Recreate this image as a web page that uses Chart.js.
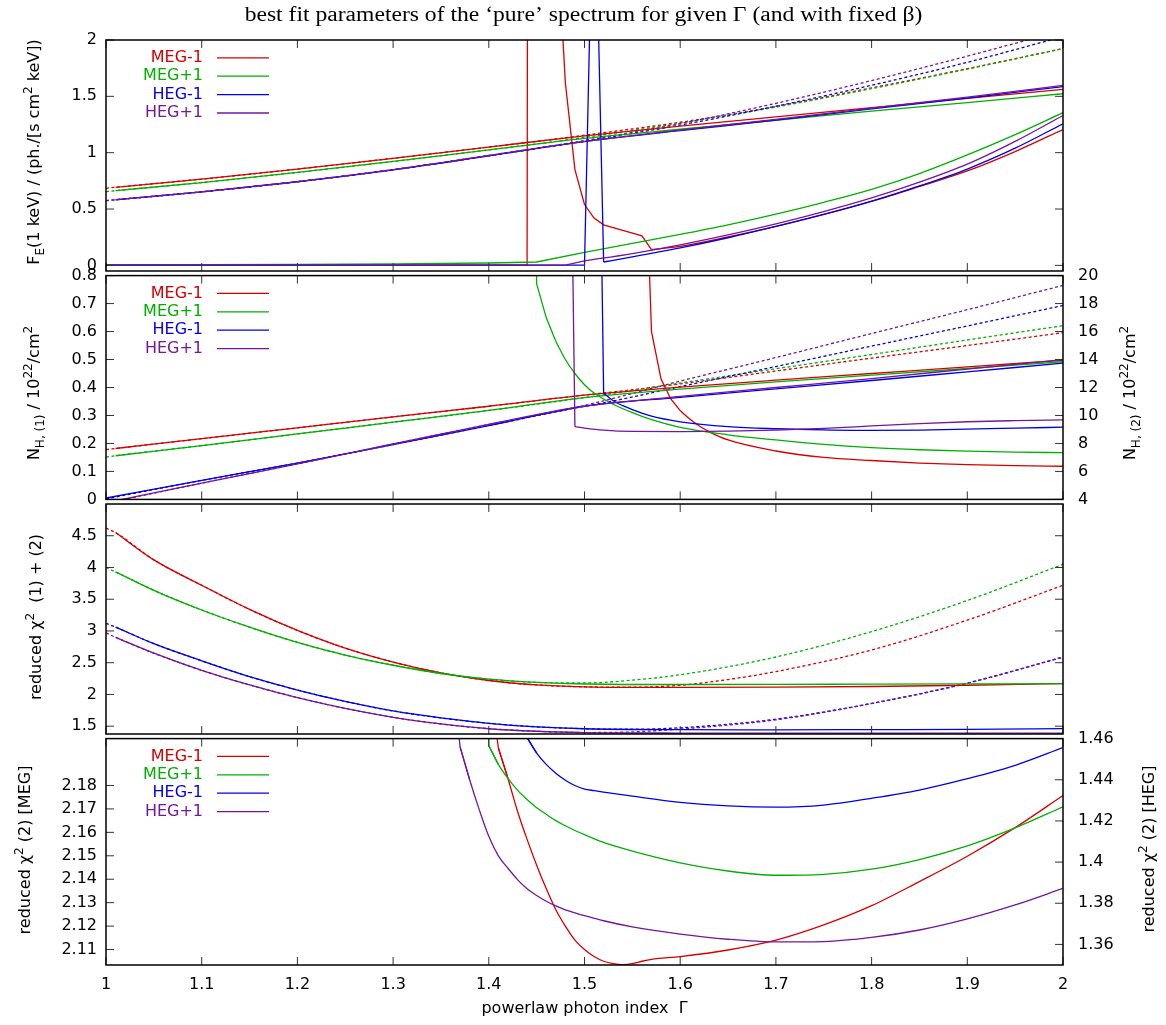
<!DOCTYPE html>
<html>
<head>
<meta charset="utf-8">
<title>best fit parameters of the 'pure' spectrum</title>
<script src="https://cdn.jsdelivr.net/npm/chart.js@4.4.1/dist/chart.umd.min.js"></script>
<style>
  html, body { margin: 0; padding: 0; background: #fff; }
  #wrap { position: relative; width: 1166px; height: 1025px; overflow: hidden; }
  #wrap canvas { position: absolute; left: 0; }
</style>
</head>
<body>
<div id="wrap">
  <canvas id="panel-flux"></canvas>
  <canvas id="panel-nh"></canvas>
  <canvas id="panel-chi"></canvas>
  <canvas id="panel-chi2"></canvas>
</div>
<script>
// --- 1. Data ([Gamma, value] pairs) ---
const SERIES = ['MEG-1', 'MEG+1', 'HEG-1', 'HEG+1'];
const COLORS = ['#d70000', '#00b000', '#0000e8', '#74169a'];

// tick values
const gammaTicks = [1, 1.1, 1.2, 1.3, 1.4, 1.5, 1.6, 1.7, 1.8, 1.9, 2];
const fluxTicks = [0, 0.5, 1, 1.5, 2];
const nh1Ticks = [0, 0.1, 0.2, 0.3, 0.4, 0.5, 0.6, 0.7, 0.8];
const nh2Ticks = [4, 6, 8, 10, 12, 14, 16, 18, 20];
const chiTicks = [1.5, 2, 2.5, 3, 3.5, 4, 4.5];
const chiMegTicks = [2.11, 2.12, 2.13, 2.14, 2.15, 2.16, 2.17, 2.18];
const chiHegTicks = [1.36, 1.38, 1.4, 1.42, 1.44, 1.46];

// panel 1: F_E(1 keV), first component (solid)
const fluxC1MEGm1 = [[1.01,0.693],[1.1,0.765],[1.2,0.855],[1.3,0.95],[1.4,1.05],[1.5,1.15],[1.6,1.235],[1.7,1.318],[1.8,1.4],[1.9,1.482],[2,1.562]];
const fluxC1MEGp1 = [[1.01,0.663],[1.1,0.735],[1.2,0.825],[1.3,0.922],[1.4,1.025],[1.5,1.127],[1.6,1.208],[1.7,1.288],[1.8,1.368],[1.9,1.445],[2,1.523]];
const fluxC1HEGm1 = [[1.01,0.582],[1.1,0.652],[1.2,0.742],[1.3,0.848],[1.4,0.972],[1.5,1.098],[1.6,1.195],[1.7,1.29],[1.8,1.388],[1.9,1.485],[2,1.586]];
const fluxC1HEGp1 = [[1.01,0.583],[1.1,0.653],[1.2,0.743],[1.3,0.85],[1.4,0.975],[1.5,1.1],[1.6,1.2],[1.7,1.296],[1.8,1.395],[1.9,1.493],[2,1.597]];
// panel 1: second component (solid)
const fluxC2MEGm1 = [[1,0.003],[1.44,0.003],[1.45,60],[1.46,60],[1.47,3.14],[1.48,1.62],[1.49,0.85],[1.5,0.54],[1.51,0.42],[1.52,0.36],[1.54,0.31],[1.56,0.262],[1.57,0.14],[1.6,0.168],[1.65,0.252],[1.7,0.347],[1.75,0.452],[1.8,0.568],[1.85,0.7],[1.9,0.838],[1.95,1.01],[2,1.206]];
const fluxC2MEGp1 = [[1,0.004],[1.2,0.009],[1.3,0.014],[1.4,0.021],[1.45,0.03],[1.5,0.115],[1.55,0.195],[1.6,0.275],[1.65,0.36],[1.7,0.455],[1.75,0.56],[1.8,0.675],[1.85,0.815],[1.9,0.98],[1.95,1.16],[2,1.355]];
const fluxC2HEGm1 = [[1,0.002],[1.5,0.002],[1.51,3.85],[1.52,0.03],[1.55,0.075],[1.6,0.155],[1.65,0.245],[1.7,0.345],[1.75,0.452],[1.8,0.57],[1.85,0.705],[1.9,0.855],[1.95,1.04],[2,1.257]];
const fluxC2HEGp1 = [[1,0.002],[1.48,0.002],[1.5,0.04],[1.55,0.105],[1.6,0.182],[1.65,0.27],[1.7,0.368],[1.75,0.477],[1.8,0.598],[1.85,0.738],[1.9,0.898],[1.95,1.1],[2,1.33]];
// panel 1: single-component fit (dotted)
const flux1cMEGm1 = [[1,0.684],[1.01,0.693],[1.1,0.765],[1.2,0.855],[1.3,0.95],[1.4,1.05],[1.45,1.1],[1.5,1.155],[1.6,1.27],[1.7,1.41],[1.8,1.575],[1.9,1.745],[2,1.924]];
const flux1cMEGp1 = [[1,0.655],[1.01,0.663],[1.1,0.735],[1.2,0.825],[1.3,0.922],[1.4,1.025],[1.45,1.077],[1.5,1.135],[1.6,1.262],[1.7,1.405],[1.8,1.568],[1.9,1.742],[2,1.924]];
const flux1cHEGm1 = [[1,0.575],[1.01,0.582],[1.1,0.652],[1.2,0.742],[1.3,0.848],[1.4,0.972],[1.5,1.102],[1.6,1.245],[1.7,1.412],[1.8,1.598],[1.9,1.802],[2,2.03]];
const flux1cHEGp1 = [[1,0.575],[1.01,0.583],[1.1,0.653],[1.2,0.743],[1.3,0.85],[1.4,0.975],[1.5,1.108],[1.6,1.258],[1.7,1.438],[1.8,1.64],[1.9,1.857],[2,2.085]];

// panel 2: N_H,(1) (solid, left axis)
const nh1MEGm1 = [[1.01,0.182],[1.1,0.217],[1.2,0.256],[1.3,0.295],[1.4,0.333],[1.5,0.373],[1.6,0.401],[1.7,0.426],[1.8,0.45],[1.9,0.474],[2,0.497]];
const nh1MEGp1 = [[1.01,0.156],[1.1,0.192],[1.2,0.234],[1.3,0.276],[1.4,0.318],[1.5,0.364],[1.6,0.394],[1.7,0.42],[1.8,0.444],[1.9,0.468],[2,0.492]];
const nh1HEGm1 = [[1,0.005],[1.1,0.068],[1.2,0.13],[1.3,0.196],[1.4,0.264],[1.5,0.333],[1.6,0.365],[1.7,0.395],[1.8,0.425],[1.9,0.456],[2,0.487]];
const nh1HEGp1 = [[1,-0.012],[1.1,0.058],[1.2,0.127],[1.3,0.198],[1.4,0.268],[1.49,0.328],[1.6,0.368],[1.7,0.4],[1.8,0.432],[1.9,0.466],[2,0.5]];
// panel 2: N_H,(2) (solid, right axis)
const nh2MEGm1 = [[1.56,36],[1.57,16],[1.58,12.6],[1.59,11.2],[1.6,10.35],[1.61,9.75],[1.62,9.25],[1.63,8.85],[1.65,8.25],[1.7,7.46],[1.75,7.0],[1.8,6.78],[1.85,6.6],[1.9,6.48],[1.95,6.41],[2,6.37]];
const nh2MEGp1 = [[1.44,60],[1.45,19.4],[1.46,17.0],[1.47,15.3],[1.48,14.0],[1.49,13],[1.5,12.2],[1.51,11.6],[1.53,10.8],[1.55,10.2],[1.57,9.7],[1.6,9.15],[1.65,8.62],[1.7,8.25],[1.75,7.93],[1.8,7.7],[1.85,7.55],[1.9,7.45],[1.95,7.38],[2,7.34]];
const nh2HEGm1 = [[1.51,60],[1.52,11.6],[1.53,11.05],[1.54,10.7],[1.55,10.42],[1.57,9.95],[1.6,9.55],[1.65,9.2],[1.7,9.05],[1.75,8.97],[1.8,8.93],[1.85,8.95],[1.9,9.02],[1.95,9.1],[2,9.16]];
const nh2HEGp1 = [[1.48,60],[1.49,9.2],[1.5,9.1],[1.52,8.95],[1.55,8.86],[1.6,8.85],[1.65,8.88],[1.7,8.95],[1.75,9.08],[1.8,9.25],[1.85,9.42],[1.9,9.55],[1.95,9.63],[2,9.69]];
// panel 2: single-component N_H (dotted, left axis)
const nh1cMEGm1 = [[1,0.178],[1.01,0.182],[1.1,0.217],[1.2,0.256],[1.3,0.295],[1.4,0.333],[1.5,0.373],[1.55,0.392],[1.6,0.413],[1.7,0.459],[1.8,0.505],[1.9,0.55],[2,0.596]];
const nh1cMEGp1 = [[1,0.151],[1.01,0.156],[1.1,0.192],[1.2,0.234],[1.3,0.276],[1.4,0.318],[1.5,0.364],[1.6,0.416],[1.7,0.467],[1.8,0.518],[1.9,0.57],[2,0.621]];
const nh1cHEGm1 = [[1,0.002],[1.1,0.068],[1.2,0.13],[1.3,0.196],[1.4,0.264],[1.5,0.333],[1.52,0.345],[1.6,0.403],[1.7,0.475],[1.8,0.548],[1.9,0.62],[2,0.693]];
const nh1cHEGp1 = [[1,-0.014],[1.1,0.058],[1.2,0.127],[1.3,0.198],[1.4,0.268],[1.49,0.328],[1.6,0.423],[1.7,0.507],[1.8,0.593],[1.9,0.678],[2,0.765]];

// panel 3: reduced chi^2 (1)+(2) (solid) and single-component (dotted)
const chiMEGm1 = [[1.01,4.55],[1.05,4.12],[1.1,3.72],[1.15,3.34],[1.2,3.01],[1.25,2.73],[1.3,2.51],[1.35,2.34],[1.4,2.22],[1.45,2.15],[1.5,2.12],[1.55,2.112],[1.6,2.112],[1.7,2.115],[1.8,2.125],[1.9,2.145],[2,2.172]];
const chiMEGp1 = [[1.01,3.93],[1.05,3.64],[1.1,3.33],[1.15,3.06],[1.2,2.82],[1.25,2.62],[1.3,2.46],[1.35,2.33],[1.4,2.24],[1.45,2.19],[1.5,2.165],[1.6,2.157],[1.7,2.158],[1.8,2.162],[1.9,2.166],[2,2.17]];
const chiHEGm1 = [[1.01,3.06],[1.05,2.8],[1.1,2.53],[1.15,2.28],[1.2,2.07],[1.25,1.89],[1.3,1.74],[1.35,1.63],[1.4,1.545],[1.45,1.49],[1.5,1.46],[1.6,1.445],[1.7,1.443],[1.8,1.446],[1.9,1.45],[2,1.462]];
const chiHEGp1 = [[1.01,2.9],[1.05,2.65],[1.1,2.38],[1.15,2.15],[1.2,1.95],[1.25,1.78],[1.3,1.64],[1.35,1.535],[1.4,1.46],[1.45,1.42],[1.5,1.4],[1.6,1.392],[1.8,1.39],[2,1.392]];
const chi1cMEGm1 = [[1,4.62],[1.01,4.55],[1.05,4.12],[1.1,3.72],[1.15,3.34],[1.2,3.01],[1.25,2.73],[1.3,2.51],[1.35,2.34],[1.4,2.22],[1.45,2.15],[1.5,2.12],[1.55,2.115],[1.6,2.145],[1.65,2.235],[1.7,2.36],[1.8,2.7],[1.9,3.17],[2,3.72]];
const chi1cMEGp1 = [[1,4.0],[1.01,3.93],[1.05,3.64],[1.1,3.33],[1.15,3.06],[1.2,2.82],[1.25,2.62],[1.3,2.46],[1.35,2.33],[1.4,2.24],[1.45,2.19],[1.5,2.18],[1.55,2.225],[1.6,2.31],[1.7,2.59],[1.8,2.99],[1.9,3.48],[2,4.05]];
const chi1cHEGm1 = [[1,3.12],[1.01,3.06],[1.05,2.8],[1.1,2.53],[1.15,2.28],[1.2,2.07],[1.25,1.89],[1.3,1.74],[1.35,1.63],[1.4,1.545],[1.45,1.49],[1.5,1.46],[1.55,1.452],[1.6,1.475],[1.7,1.61],[1.8,1.86],[1.9,2.18],[2,2.59]];
const chi1cHEGp1 = [[1,2.97],[1.01,2.9],[1.05,2.65],[1.1,2.38],[1.15,2.15],[1.2,1.95],[1.25,1.78],[1.3,1.64],[1.35,1.535],[1.4,1.46],[1.45,1.42],[1.5,1.4],[1.55,1.41],[1.6,1.455],[1.7,1.6],[1.8,1.855],[1.9,2.175],[2,2.585]];

// panel 4: reduced chi^2 (2); MEG on the left axis, HEG on the right axis
const chi2MEGm1 = [[1.4,2.227],[1.41,2.196],[1.42,2.183],[1.43,2.169],[1.44,2.157],[1.45,2.146],[1.46,2.136],[1.47,2.127],[1.48,2.12],[1.49,2.114],[1.5,2.11],[1.51,2.107],[1.52,2.105],[1.53,2.104],[1.54,2.1036],[1.55,2.104],[1.56,2.105],[1.57,2.1058],[1.6,2.107],[1.65,2.1098],[1.7,2.114],[1.75,2.1205],[1.8,2.1287],[1.85,2.139],[1.9,2.1498],[1.95,2.162],[2,2.1757]];
const chi2MEGp1 = [[1.39,2.35],[1.4,2.197],[1.41,2.189],[1.42,2.183],[1.43,2.178],[1.44,2.174],[1.45,2.1705],[1.46,2.1677],[1.47,2.165],[1.48,2.1628],[1.49,2.1608],[1.5,2.159],[1.52,2.1557],[1.55,2.152],[1.6,2.147],[1.65,2.1435],[1.7,2.1417],[1.75,2.1421],[1.8,2.1443],[1.85,2.1484],[1.9,2.1542],[1.95,2.1619],[2,2.1709]];
const chi2HEGm1 = [[1.43,1.48],[1.44,1.4605],[1.45,1.453],[1.46,1.4475],[1.47,1.4432],[1.48,1.4398],[1.49,1.4372],[1.5,1.4355],[1.51,1.4347],[1.52,1.434],[1.55,1.432],[1.6,1.429],[1.65,1.4273],[1.7,1.4267],[1.75,1.4277],[1.8,1.431],[1.85,1.435],[1.9,1.4405],[1.95,1.447],[2,1.4556]];
const chi2HEGp1 = [[1.36,1.5],[1.37,1.456],[1.38,1.44],[1.39,1.4255],[1.4,1.4125],[1.41,1.403],[1.42,1.397],[1.43,1.3915],[1.44,1.387],[1.45,1.3838],[1.46,1.381],[1.47,1.3787],[1.48,1.3768],[1.49,1.3753],[1.5,1.374],[1.52,1.3715],[1.55,1.3685],[1.6,1.365],[1.65,1.3625],[1.7,1.3612],[1.75,1.3614],[1.8,1.3634],[1.85,1.367],[1.9,1.3724],[1.95,1.3792],[2,1.3872]];

// --- 2. Layout of the four stacked panels (pixel rows of the plot boxes) ---
const W = 1166, H = 1025;
const PLOT_LEFT = 106, PLOT_RIGHT = 1063;
const PANEL_EDGES = [40, 271, 504, 734, 965];
const SANS = '"DejaVu Sans", "Liberation Sans", Arial, sans-serif';

Chart.defaults.font.family = SANS;
Chart.defaults.font.size = 16;
Chart.defaults.color = '#000';

const fmt = v => String(Number(Number(v).toFixed(4)));

// --- 3. Helpers ---
const solid = (data, i, extra = {}) => ({
    label: SERIES[i],
    data,
    borderColor: COLORS[i],
    backgroundColor: COLORS[i],
    borderWidth: 1.3,
    pointRadius: 0,
    fill: false,
    cubicInterpolationMode: 'monotone',
    order: 4 - i,
    ...extra
});
const dotted = (data, i, extra = {}) => solid(data, i, { borderDash: [3, 2.5], order: 14 - i, ...extra });

// a curve that jumps in from off-scale: straight segments up to `fromX`, smooth after it
const jumpy = (data, i, fromX, extra = {}) => {
    const k = data.findIndex(p => p[0] >= fromX - 1e-9);
    return [
        solid(data.slice(0, k + 1), i, { cubicInterpolationMode: 'default', tension: 0, ...extra }),
        solid(data.slice(k), i, extra)
    ];
};

const yScale = (position, min, max, values, showLabels) => ({
    type: 'linear',
    position,
    min, max,
    grid: { display: false, drawTicks: false },
    border: { display: false },
    afterBuildTicks: s => { s.ticks = values.map(v => ({ value: v })); },
    afterFit: s => { s.width = position === 'left' ? PLOT_LEFT : W - PLOT_RIGHT; },
    ticks: { display: showLabels, autoSkip: false, padding: position === 'left' ? 9 : 15, callback: fmt }
});

const xScale = (bottomPanel) => ({
    type: 'linear',
    min: 1, max: 2,
    display: true,
    grid: { display: false, drawTicks: false },
    border: { display: false },
    afterBuildTicks: s => { s.ticks = gammaTicks.map(v => ({ value: v })); },
    afterFit: s => { s.height = bottomPanel ? H - PANEL_EDGES[4] : 0; },
    ticks: { display: bottomPanel, autoSkip: false, maxRotation: 0, padding: 10, callback: fmt },
    title: {
        display: bottomPanel,
        text: 'powerlaw photon index  \u0393',
        padding: { top: 0, bottom: 7 }
    }
});

// text with _{sub} and ^{sup}, rotated to read upwards
function parseRich(s) {
    const runs = [];
    const re = /([_^])\{([^}]*)\}|([^_^]+)/g;
    let m;
    while ((m = re.exec(s))) {
        if (m[3] !== undefined) runs.push({ t: m[3], k: 0 });
        else runs.push({ t: m[2], k: m[1] === '_' ? -1 : 1 });
    }
    return runs;
}
function drawRich(ctx, s, cx, cy, size) {
    const runs = parseRich(s);
    const fontOf = r => (r.k ? Math.round(size * 0.75) : size) + 'px ' + SANS;
    ctx.save();
    ctx.translate(cx, cy);
    ctx.rotate(-Math.PI / 2);
    ctx.textAlign = 'left';
    ctx.textBaseline = 'alphabetic';
    ctx.fillStyle = '#000';
    let total = 0;
    runs.forEach(r => { ctx.font = fontOf(r); r.w = ctx.measureText(r.t).width; total += r.w; });
    let x = -total / 2;
    const base = size * 0.36;
    runs.forEach(r => {
        ctx.font = fontOf(r);
        const dy = r.k < 0 ? size * 0.32 : r.k > 0 ? -size * 0.45 : 0;
        ctx.fillText(r.t, x, base + dy);
        x += r.w;
    });
    ctx.restore();
}

// plot box plus gnuplot-style inward ticks
const frameTicks = {
    id: 'frameTicks',
    afterDatasetsDraw(chart) {
        const { ctx, chartArea: a, scales } = chart;
        const len = 8;
        ctx.save();
        ctx.strokeStyle = '#333';
        ctx.lineWidth = 1;
        ctx.beginPath();
        scales.x.ticks.forEach(t => {
            const px = scales.x.getPixelForValue(t.value);
            ctx.moveTo(px, a.bottom); ctx.lineTo(px, a.bottom - len);
            ctx.moveTo(px, a.top); ctx.lineTo(px, a.top + len);
        });
        scales.y.ticks.forEach(t => {
            const py = scales.y.getPixelForValue(t.value);
            ctx.moveTo(a.left, py); ctx.lineTo(a.left + len, py);
        });
        scales.y2.ticks.forEach(t => {
            const py = scales.y2.getPixelForValue(t.value);
            ctx.moveTo(a.right, py); ctx.lineTo(a.right - len, py);
        });
        ctx.stroke();
        ctx.strokeStyle = '#000';
        ctx.lineWidth = 1.5;
        ctx.strokeRect(a.left, a.top, a.right - a.left, a.bottom - a.top);
        ctx.restore();
    }
};

// gnuplot key: coloured label, then a short line sample
const lineKey = {
    id: 'lineKey',
    afterDatasetsDraw(chart, args, opts) {
        if (!opts.show) return;
        const { ctx, chartArea: a } = chart;
        ctx.save();
        ctx.font = '16px ' + SANS;
        ctx.textAlign = 'right';
        ctx.textBaseline = 'middle';
        chart.data.datasets.filter(d => d.key).forEach((d, i) => {
            const y = a.top + 17.8 + i * 18.4;
            ctx.fillStyle = d.borderColor;
            ctx.fillText(d.label, a.left + 97, y);
            ctx.strokeStyle = d.borderColor;
            ctx.lineWidth = 1.3;
            ctx.beginPath();
            ctx.moveTo(a.left + 111, y);
            ctx.lineTo(a.left + 163, y);
            ctx.stroke();
        });
        ctx.restore();
    }
};

const axisTitles = {
    id: 'axisTitles',
    afterDraw(chart, args, opts) {
        const { ctx } = chart;
        const top = chart.canvas.offsetTop;
        if (opts.left) drawRich(ctx, opts.left.text, opts.left.x, opts.left.y - top, 16);
        if (opts.right) drawRich(ctx, opts.right.text, opts.right.x, opts.right.y - top, 16);
        if (opts.main) {
            // Times-like face, drawn a little wider as in the reference
            ctx.save();
            ctx.translate((PLOT_LEFT + PLOT_RIGHT) / 2 - 1, 20.5 - top);
            ctx.scale(1.18, 1);
            ctx.font = '20px "Liberation Serif", "Times New Roman", serif';
            ctx.textAlign = 'center';
            ctx.textBaseline = 'alphabetic';
            ctx.fillStyle = '#000';
            ctx.fillText(opts.main, 0, 0);
            ctx.restore();
        }
    }
};

// --- 4. Build one panel ---
function makePanel(canvasId, idx, datasets, scales, titles, showKey) {
    const topEdge = PANEL_EDGES[idx], botEdge = PANEL_EDGES[idx + 1];
    const canvasTop = idx === 0 ? 0 : topEdge - 20;
    const canvasBottom = idx === 3 ? H : botEdge + 20;
    const canvas = document.getElementById(canvasId);
    canvas.width = W;
    canvas.height = canvasBottom - canvasTop;
    canvas.style.top = canvasTop + 'px';
    canvas.style.width = W + 'px';
    canvas.style.height = (canvasBottom - canvasTop) + 'px';

    return new Chart(canvas, {
        type: 'line',
        data: { datasets },
        options: {
            responsive: false,
            animation: false,
            events: [],
            devicePixelRatio: 1,
            layout: { padding: { top: topEdge - canvasTop, bottom: idx === 3 ? 0 : canvasBottom - botEdge, left: 0, right: 0 } },
            scales: { x: xScale(idx === 3), ...scales },
            plugins: {
                legend: { display: false },
                tooltip: { enabled: false },
                lineKey: { show: showKey },
                axisTitles: titles
            }
        },
        plugins: [frameTicks, lineKey, axisTitles]
    });
}

// --- 5. The four panels ---
const fluxC1 = [fluxC1MEGm1, fluxC1MEGp1, fluxC1HEGm1, fluxC1HEGp1];
const flux1c = [flux1cMEGm1, flux1cMEGp1, flux1cHEGm1, flux1cHEGp1];
makePanel('panel-flux', 0, [
    ...fluxC1.map((d, i) => solid(d, i, { key: true })),
    ...jumpy(fluxC2MEGm1, 0, 1.57),
    ...jumpy(fluxC2MEGp1, 1, 1.5),
    ...jumpy(fluxC2HEGm1, 2, 1.52),
    ...jumpy(fluxC2HEGp1, 3, 1.5),
    ...flux1c.map((d, i) => dotted(d, i))
], {
    y: yScale('left', -0.05, 2, fluxTicks, true),
    y2: yScale('right', -0.05, 2, fluxTicks, false)
}, {
    main: 'best fit parameters of the \u2018pure\u2019 spectrum for given \u0393 (and with fixed \u03B2)',
    left: { text: 'F_{E}(1 keV) / (ph./[s cm^{2} keV])', x: 33.5, y: 152 }
}, true);

const nh1 = [nh1MEGm1, nh1MEGp1, nh1HEGm1, nh1HEGp1];
const nh1c = [nh1cMEGm1, nh1cMEGp1, nh1cHEGm1, nh1cHEGp1];
makePanel('panel-nh', 1, [
    ...nh1.map((d, i) => solid(d, i, { key: true })),
    ...jumpy(nh2MEGm1, 0, 1.6, { yAxisID: 'y2' }),
    ...jumpy(nh2MEGp1, 1, 1.47, { yAxisID: 'y2' }),
    ...jumpy(nh2HEGm1, 2, 1.52, { yAxisID: 'y2' }),
    ...jumpy(nh2HEGp1, 3, 1.49, { yAxisID: 'y2' }),
    ...nh1c.map((d, i) => dotted(d, i))
], {
    y: yScale('left', 0, 0.8, nh1Ticks, true),
    y2: yScale('right', 4, 20, nh2Ticks, true)
}, {
    left: { text: 'N_{H, (1)} / 10^{22}/cm^{2}', x: 33.5, y: 393 },
    right: { text: 'N_{H, (2)} / 10^{22}/cm^{2}', x: 1129, y: 393 }
}, true);

const chi = [chiMEGm1, chiMEGp1, chiHEGm1, chiHEGp1];
const chi1c = [chi1cMEGm1, chi1cMEGp1, chi1cHEGm1, chi1cHEGp1];
makePanel('panel-chi', 2, [
    ...chi.map((d, i) => solid(d, i)),
    ...chi1c.map((d, i) => dotted(d, i))
], {
    y: yScale('left', 1.377, 5, chiTicks, true),
    y2: yScale('right', 1.377, 5, chiTicks, false)
}, {
    left: { text: 'reduced \u03C7^{2}  (1) + (2)', x: 35, y: 617 }
}, false);

makePanel('panel-chi2', 3, [
    solid(chi2MEGm1.slice(1), 0, { key: true }),
    solid(chi2MEGp1.slice(1), 1, { key: true }),
    solid(chi2HEGm1.slice(1), 2, { key: true, yAxisID: 'y2' }),
    solid(chi2HEGp1.slice(1), 3, { key: true, yAxisID: 'y2' }),
    ...jumpy(chi2MEGm1.slice(0, 3), 0, 1.42),
    ...jumpy(chi2MEGp1.slice(0, 3), 1, 1.41),
    ...jumpy(chi2HEGm1.slice(0, 3), 2, 1.45, { yAxisID: 'y2' }),
    ...jumpy(chi2HEGp1.slice(0, 3), 3, 1.38, { yAxisID: 'y2' })
], {
    y: yScale('left', 2.1034, 2.2, chiMegTicks, true),
    y2: yScale('right', 1.35, 1.46, chiHegTicks, true)
}, {
    left: { text: 'reduced \u03C7^{2} (2) [MEG]', x: 24, y: 850 },
    right: { text: 'reduced \u03C7^{2} (2) [HEG]', x: 1148, y: 849 }
}, true);
</script>
</body>
</html>
